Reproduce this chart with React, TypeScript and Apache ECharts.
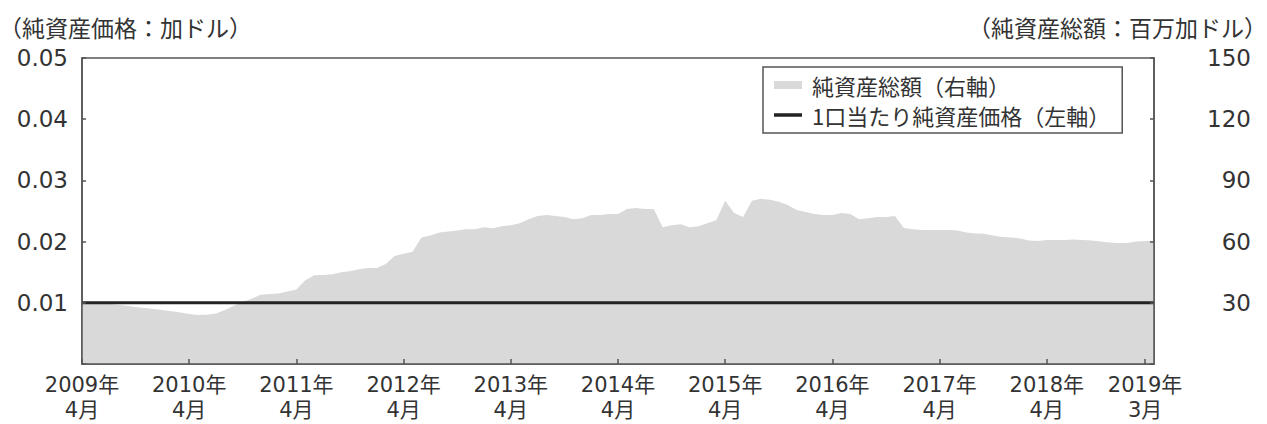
import React, { useEffect, useRef } from "react";
import * as echarts from "echarts";

// Monthly categories from 2009年4月 to 2019年4月 (axis end)
const months: string[] = [];
for (let i = 0; i <= 120; i++) {
  const m = ((3 + i) % 12) + 1;
  const y = 2009 + Math.floor((3 + i) / 12);
  months.push(`${y}年\n${m}月`);
}

// 純資産総額（百万加ドル） right axis
const totalAssets: number[] = [
  29.5, 30, 29.8, 29.5, 29, 28.5, 28, 27.5, 27, 26.5, 25.8, 25.3,
  24.5, 24, 24.2, 24.8, 26.5, 28.5, 30.5, 32, 34, 34.3, 34.5, 35.5,
  36.5, 41, 43.5, 43.6, 44, 45, 45.5, 46.5, 47, 47, 49, 53,
  54, 55, 62, 63, 64.5, 65, 65.5, 66, 66, 67, 66.5, 67.5,
  68, 69, 71, 72.5, 73, 72.5, 72, 71, 71.5, 73, 73, 73.5,
  73.5, 76, 76.5, 76, 76, 67, 68, 68.5, 67, 67.5, 69, 70.5,
  80, 74, 72, 80, 81, 80.5, 79.5, 78, 75.5, 74.5, 73.5, 73,
  73, 74, 73.5, 71, 71.5, 72, 72, 72.5, 66.7, 66, 65.7, 65.7,
  65.7, 65.7, 65.5, 64.5, 64, 63.8, 63, 62.3, 62, 61.5, 60.5, 60.3,
  60.8, 60.8, 60.8, 61, 60.8, 60.5, 60, 59.5, 59.3, 59.3, 60, 60.3,
  60.3,
];

// 1口当たり純資産価格（加ドル） left axis
const navPerUnit: number[] = [
  0.01, 0.01, 0.01, 0.01, 0.01, 0.01, 0.01, 0.01, 0.01, 0.01, 0.01, 0.01,
  0.01, 0.01, 0.01, 0.01, 0.01, 0.01, 0.01, 0.01, 0.01, 0.01, 0.01, 0.01,
  0.01, 0.01, 0.01, 0.01, 0.01, 0.01, 0.01, 0.01, 0.01, 0.01, 0.01, 0.01,
  0.01, 0.01, 0.01, 0.01, 0.01, 0.01, 0.01, 0.01, 0.01, 0.01, 0.01, 0.01,
  0.01, 0.01, 0.01, 0.01, 0.01, 0.01, 0.01, 0.01, 0.01, 0.01, 0.01, 0.01,
  0.01, 0.01, 0.01, 0.01, 0.01, 0.01, 0.01, 0.01, 0.01, 0.01, 0.01, 0.01,
  0.01, 0.01, 0.01, 0.01, 0.01, 0.01, 0.01, 0.01, 0.01, 0.01, 0.01, 0.01,
  0.01, 0.01, 0.01, 0.01, 0.01, 0.01, 0.01, 0.01, 0.01, 0.01, 0.01, 0.01,
  0.01, 0.01, 0.01, 0.01, 0.01, 0.01, 0.01, 0.01, 0.01, 0.01, 0.01, 0.01,
  0.01, 0.01, 0.01, 0.01, 0.01, 0.01, 0.01, 0.01, 0.01, 0.01, 0.01, 0.01,
  0.01,
];

const seriesNames = ["純資産総額（右軸）", "1口当たり純資産価格（左軸）"];
const leftTitle = "（純資産価格：加ドル）";
const rightTitle = "（純資産総額：百万加ドル）";

const isLabelIndex = (index: number) => (index % 12 === 0 && index < 120) || index === 119;

export default function App() {
  const ref = useRef<HTMLDivElement>(null);
  useEffect(() => {
    if (!ref.current) return;
    const chart = echarts.init(ref.current, undefined, { renderer: "svg" });
    const textColor = "#333";
    const axisColor = "#555";
    const numFont = "'DejaVu Sans', 'Noto Sans CJK JP', sans-serif";
    const jpFont = "'Noto Sans CJK JP', sans-serif";
    chart.setOption({
      animation: false,
      backgroundColor: "#fff",
      grid: {
        left: 82,
        right: 113,
        top: 58,
        bottom: 60,
        show: true,
        borderColor: axisColor,
        borderWidth: 1.5,
        backgroundColor: "transparent",
      },
      graphic: [
        {
          type: "text",
          left: -1,
          top: 15,
          style: { text: leftTitle, font: `23px ${jpFont}`, fill: textColor },
        },
        {
          type: "text",
          right: 0,
          top: 15,
          style: { text: rightTitle, font: `23px ${jpFont}`, fill: textColor },
        },
      ],
      legend: {
        orient: "vertical",
        left: 763,
        top: 67,
        padding: [6, 12, 6, 11],
        itemGap: 6,
        itemWidth: 28,
        itemHeight: 8,
        borderColor: axisColor,
        borderWidth: 1.5,
        backgroundColor: "#fff",
        textStyle: {
          fontSize: 22,
          lineHeight: 24,
          color: textColor,
          fontFamily: jpFont,
          padding: [0, 0, 0, 5],
        },
        data: [
          { name: seriesNames[0], icon: "rect" },
          { name: seriesNames[1], icon: "path://M0 0H28V3.5H0Z" },
        ],
      },
      xAxis: {
        type: "category",
        data: months,
        boundaryGap: false,
        z: 10,
        axisLine: { lineStyle: { color: axisColor, width: 1.5 } },
        axisTick: {
          inside: true,
          length: 5,
          interval: (index: number) => isLabelIndex(index),
          lineStyle: { color: axisColor, width: 1.5 },
        },
        axisLabel: {
          interval: (index: number) => isLabelIndex(index),
          color: textColor,
          fontFamily: numFont,
          fontSize: 21,
          lineHeight: 25,
          margin: 8,
          hideOverlap: false,
        },
        splitLine: { show: false },
      },
      yAxis: [
        {
          type: "value",
          min: 0,
          max: 0.05,
          interval: 0.01,
          z: 10,
          axisLine: { show: true, lineStyle: { color: axisColor, width: 1.5 } },
          axisTick: { show: true, inside: true, length: 4, lineStyle: { color: axisColor, width: 1.5 } },
          axisLabel: {
            color: textColor,
            fontFamily: numFont,
            fontSize: 23,
            margin: 14,
            formatter: (v: number) => (v === 0 ? "" : v.toFixed(2)),
          },
          splitLine: { show: false },
        },
        {
          type: "value",
          min: 0,
          max: 150,
          interval: 30,
          position: "right",
          z: 10,
          axisLine: { show: true, lineStyle: { color: axisColor, width: 1.5 } },
          axisTick: { show: true, inside: true, length: 4, lineStyle: { color: axisColor, width: 1.5 } },
          axisLabel: {
            color: textColor,
            fontFamily: numFont,
            fontSize: 23,
            align: "right",
            margin: 97,
            formatter: (v: number) => (v === 0 ? "" : String(v)),
          },
          splitLine: { show: false },
        },
      ],
      series: [
        {
          name: seriesNames[0],
          type: "line",
          yAxisIndex: 1,
          data: totalAssets,
          symbol: "none",
          color: "#d9d9d9",
          lineStyle: { width: 0, color: "#d9d9d9" },
          areaStyle: { color: "#d9d9d9", opacity: 1 },
          z: 2,
        },
        {
          name: seriesNames[1],
          type: "line",
          yAxisIndex: 0,
          data: navPerUnit,
          symbol: "none",
          color: "#222",
          lineStyle: { width: 3, color: "#222" },
          z: 3,
        },
      ],
    });
    return () => chart.dispose();
  }, []);
  return (
    <div
      ref={ref}
      style={{ position: "absolute", left: 0, top: 0, width: 1267, height: 424 }}
    />
  );
}
